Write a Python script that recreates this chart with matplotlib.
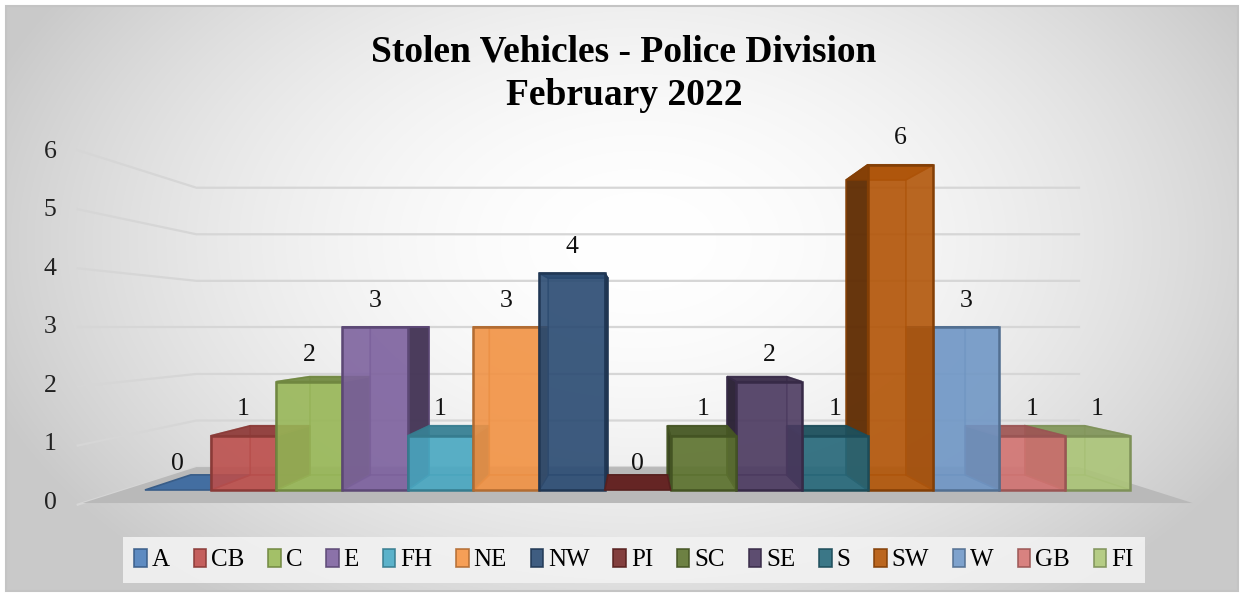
import numpy as np
import matplotlib
matplotlib.use("Agg")
import matplotlib.pyplot as plt
from matplotlib.patches import Polygon, Patch, Rectangle
from matplotlib.colors import to_rgb

# ---------------- data ----------------
divisions = ["A", "CB", "C", "E", "FH", "NE", "NW", "PI", "SC", "SE", "S", "SW", "W", "GB", "FI"]
counts = [0, 1, 2, 3, 1, 3, 4, 0, 1, 2, 1, 6, 3, 1, 1]
colors = ["#4f81bd", "#c0504d", "#9bbb59", "#8064a2", "#4bacc6", "#f79646", "#2c4d75",
          "#772c2a", "#5f7530", "#4d3b62", "#276a7c", "#b65708", "#729aca", "#d67674", "#afc97a"]
yticks = [0, 1, 2, 3, 4, 5, 6]
title = "Stolen Vehicles - Police Division\nFebruary 2022"

W, H = 1244, 597
fig = plt.figure(figsize=(W / 100, H / 100), dpi=100)
fig.patch.set_facecolor("white")

# background gradient
bg = fig.add_axes([0, 0, 1, 1], zorder=0)
bg.set_xlim(0, W); bg.set_ylim(H, 0); bg.axis("off")
yy, xx = np.mgrid[0:H, 0:W]
r = np.sqrt(((xx - 640) / 700.0) ** 2 + ((yy - 240) / 460.0) ** 2)
val = 1.0 - 0.21 * np.clip(r, 0, 1) ** 1.8
img = np.dstack([val, val, val])
bg.imshow(img, extent=(6, W - 6, H - 6, 6), aspect="auto", interpolation="bilinear")
bg.add_patch(Rectangle((6, 6), W - 12, H - 12, fill=False, edgecolor="#c4c4c4", lw=1.5))

# main axes in "front plane" data coordinates
ax = fig.add_axes([0, 0, 1, 1], zorder=1)
ax.patch.set_alpha(0)
ax.axis("off")
px0, pxu = 177.8, 65.7       # pixel x of bar 0 centre, px per bar
py0, pyu = 490.0, 54.2       # pixel y of value 0, px per unit
ax.set_xlim(-px0 / pxu, (W - px0) / pxu)
ax.set_ylim(-(H - py0) / pyu, py0 / pyu)

n = len(counts)
XV, YV = (n - 1) / 2.0, 3.0   # vanishing point
SB = 0.907                   # depth factor of bar backs
SW_ = 0.859                  # back wall
SF = 1.08                    # floor front
X0, X1 = -0.82, n - 1 + 0.82


def P(x, v, s):
    return (XV + s * (x - XV), YV + s * (v - YV))


def darker(c, f):
    r_, g_, b_ = to_rgb(c)
    return (r_ * f, g_ * f, b_ * f)


# walls: gridlines
for t in yticks:
    ax.plot(*zip(P(X0, t, 1.09), P(X0, t, SW_), P(X1, t, SW_)), color="#d6d6d6", lw=1.6, zorder=1)

# floor
floor = [P(X0, 0, SF), P(X1, 0, SF), P(X1, 0, SW_), P(X0, 0, SW_)]
ax.add_patch(Polygon(floor, closed=True, facecolor="#b9b9b9", edgecolor="none", zorder=2))

# tick labels on left wall
for t in yticks:
    x, y = P(X0, t, 1.08)
    ax.annotate(str(t), (x, y), xytext=(-19, 0), textcoords="offset points", ha="right", va="center",
                fontsize=18.5, family="Liberation Serif", color="#222222", zorder=5)

# bars: draw from outside towards the centre
order = [i for i in range(n) if i < XV] + [i for i in range(n - 1, -1, -1) if i > XV] + [i for i in range(n) if i == XV]
z = 3
for i in order:
    v = counts[i]
    c = colors[i]
    ec = darker(c, 0.72)
    xl, xr = i - 0.5, i + 0.5
    F = lambda x, y: P(x, y, 1.0)
    B = lambda x, y: P(x, y, SB)
    alpha = 0.82
    if v == 0:
        flat = [F(xl, 0), F(xr, 0), B(xr, 0), B(xl, 0)]
        ax.add_patch(Polygon(flat, closed=True, facecolor=darker(c, 0.85), edgecolor=ec, lw=1.2, zorder=z))
        z += 1
        continue
    back = [B(xl, 0), B(xr, 0), B(xr, v), B(xl, v)]
    bottom = [F(xl, 0), F(xr, 0), B(xr, 0), B(xl, 0)]
    left = [F(xl, 0), F(xl, v), B(xl, v), B(xl, 0)]
    right = [F(xr, 0), F(xr, v), B(xr, v), B(xr, 0)]
    top = [F(xl, v), F(xr, v), B(xr, v), B(xl, v)]
    ax.add_patch(Polygon(back, closed=True, facecolor=darker(c, 0.8), edgecolor=ec, lw=1.2, alpha=0.5, zorder=z))
    ax.add_patch(Polygon(bottom, closed=True, facecolor=darker(c, 0.8), edgecolor=ec, lw=1.0, alpha=0.5, zorder=z))
    side = right if i < XV else left
    other = left if i < XV else right
    ax.add_patch(Polygon(other, closed=True, facecolor=darker(c, 0.7), edgecolor=ec, lw=1.0, alpha=0.4, zorder=z))
    ax.add_patch(Polygon(side, closed=True, facecolor=darker(c, 0.52), edgecolor=ec, lw=1.2, alpha=0.92, zorder=z))
    ax.add_patch(Polygon(top, closed=True, facecolor=darker(c, 0.75), edgecolor=ec, lw=1.2, alpha=0.9, zorder=z))
    ax.bar(i, v, width=1.0, bottom=0, color=c, alpha=alpha, edgecolor="none", zorder=z + 0.5)
    ax.bar(i, v, width=1.0, bottom=0, fill=False, edgecolor=ec, lw=1.8, zorder=z + 0.6)
    z += 1

# data labels
for i, v in enumerate(counts):
    ax.annotate(str(v), (i, v), xytext=(0, 19), textcoords="offset points", ha="center", va="center",
                fontsize=18.5, family="Liberation Serif", color="#111111", zorder=50)

# title
fig.text(624 / W, 1 - 74 / H, title, ha="center", va="center", fontsize=27, fontweight="bold",
         family="Liberation Serif", linespacing=1.32, color="black")

# legend
handles = [Patch(facecolor=colors[i], edgecolor=darker(colors[i], 0.72), lw=1.2, alpha=0.9) for i in range(n)]
leg = fig.legend(handles, divisions, loc="center", bbox_to_anchor=(634 / W, 1 - 560 / H), ncol=n,
                 prop={"family": "Liberation Serif", "size": 18}, handlelength=0.5, handleheight=0.75,
                 handletextpad=0.2, columnspacing=0.95, frameon=True, fancybox=False, borderpad=0.45)
leg.get_frame().set_facecolor("#f2f2f2")
leg.get_frame().set_edgecolor("none")
leg.get_frame().set_alpha(0.9)

fig.savefig("out.png", dpi=100)
